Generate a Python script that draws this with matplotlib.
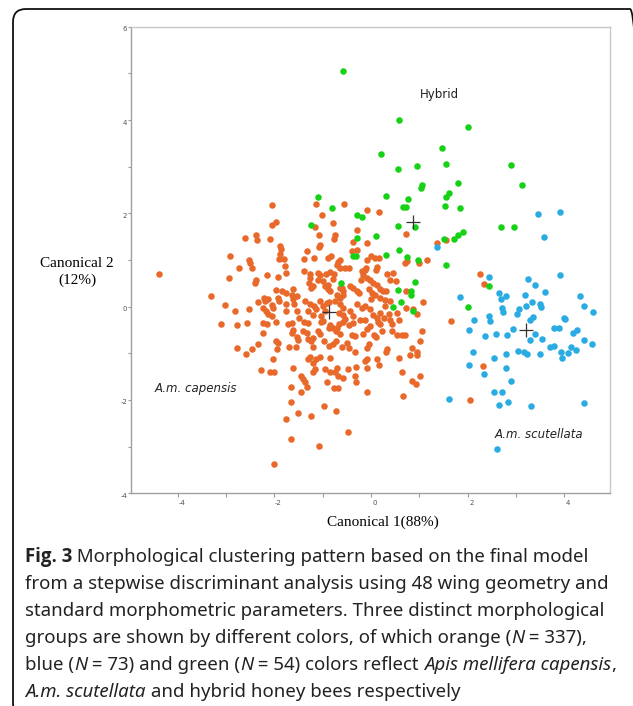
import matplotlib
matplotlib.use("Agg")
import matplotlib.pyplot as plt
from matplotlib import font_manager
from matplotlib.patches import FancyBboxPatch
from matplotlib.transforms import ScaledTranslation
import numpy as np

plt.rcParams["axes.unicode_minus"] = False

# canonical scores (x = canonical 1, y = canonical 2)
capensis = np.array([
    # left part
    (-2.06, 2.17), (-1.96, 1.82), (-2.06, 1.75), (-2.60, 1.47), (-2.38, 1.53), (-2.37, 1.42),
    (-2.09, 1.46), (-1.89, 1.31), (-1.87, 1.24), (-1.89, 1.12), (-1.90, 1.03), (-1.80, 1.03),
    (-1.78, 0.87), (-1.75, 0.73), (-2.92, 1.08), (-2.74, 0.82), (-2.52, 1.01), (-2.51, 0.94),
    (-2.47, 0.83), (-2.94, 0.62), (-2.38, 0.58), (-2.40, 0.51), (-2.16, 0.68), (-1.92, 0.63),
    (-4.39, 0.69), (-3.32, 0.22), (-3.02, 0.04), (-2.82, -0.09), (-2.53, -0.04), (-3.10, -0.38),
    (-2.78, -0.40), (-2.56, -0.34), (-2.34, 0.09), (-2.22, 0.19), (-2.13, 0.16), (-2.20, 0.12),
    (-2.23, -0.02), (-2.18, -0.09), (-2.14, -0.15), (-2.06, 0.04), (-2.02, -0.02), (-1.96, 0.35),
    (-1.85, 0.34), (-1.92, 0.19), (-1.90, 0.13), (-1.75, 0.30), (-1.75, 0.06), (-1.77, -0.09),
    (-2.24, -0.36), (-2.16, -0.38), (-1.71, -0.38), (-1.97, -0.33), (-2.04, -0.21),
    # centre, upper half
    (-1.14, 2.21), (-0.55, 2.21), (-1.02, 1.96), (-0.08, 2.08), (0.17, 2.03), (-0.78, 1.79),
    (-1.17, 1.71), (-0.30, 1.64), (-1.07, 1.53), (-0.74, 1.53), (-0.77, 1.46), (-0.37, 1.38),
    (-0.09, 1.37), (0.72, 1.56), (1.37, 1.37), (1.55, 1.43), (-1.33, 1.19), (-1.39, 1.03),
    (-1.18, 1.05), (-1.06, 1.32), (-1.08, 1.28), (-0.90, 1.05), (-0.82, 1.08), (-0.64, 1.00),
    (-0.68, 0.96), (-0.71, 0.90), (-0.64, 0.83), (-0.54, 0.82), (-0.45, 0.82), (-0.40, 1.19),
    (-0.30, 1.22), (0.01, 1.08), (0.08, 1.05), (0.17, 1.05), (-0.08, 1.00), (-0.10, 0.83),
    (-0.12, 0.78), (0.12, 0.86), (0.10, 0.79), (-1.26, 0.69), (-1.26, 0.62), (-1.28, 0.51),
    (-1.20, 0.44), (-1.25, 0.40), (-1.09, 0.72), (-1.06, 0.67), (-1.09, 0.58), (-0.99, 0.55),
    (-0.85, 0.75), (-0.77, 0.70), (-0.79, 0.60), (-0.89, 0.46), (-0.96, 0.44), (-0.90, 0.37),
    (-0.85, 0.34), (-0.64, 0.41), (-0.59, 0.34), (-0.57, 0.26), (-0.64, 0.19), (-0.44, 0.44),
    (-0.37, 0.41), (-0.30, 0.34), (-0.24, 0.30), (-0.19, 0.76), (-0.16, 0.68), (-0.09, 0.62),
    (-0.21, 0.58), (-0.02, 0.58), (0.05, 0.51), (0.12, 0.46), (-0.05, 0.37), (0.02, 0.30),
    (0.08, 0.26), (0.19, 0.37), (0.24, 0.34), (0.32, 0.34), (0.34, 0.69), (0.46, 0.73),
    (0.39, 0.58), (0.52, 0.55), (0.19, 0.19), (0.29, 0.15), (0.39, 0.12), (0.29, 0.01),
    (-1.54, 0.23), (-1.61, 0.16), (-1.60, 0.05), (-1.37, 0.12), (-1.26, 0.06), (-1.18, 0.01),
    (-1.13, -0.06), (-1.30, -0.10), (-1.20, -0.17), (-1.06, 0.12), (-0.99, 0.01), (-0.92, 0.08),
    (-0.96, -0.10), (-1.04, -0.20), (-0.99, -0.31), (-0.75, 0.12), (-0.64, 0.05), (-0.57, -0.02),
    (-0.67, -0.13), (-0.57, -0.17), (-0.44, -0.10), (-0.37, -0.20), (-0.30, 0.05), (-0.19, -0.02),
    (-0.12, 0.01), (-0.02, -0.06), (0.05, -0.17), (0.19, -0.13), (0.13, -0.24), (0.26, -0.24),
    (0.38, -0.16), (0.53, -0.13), (0.73, -0.02), (0.74, 0.98), (0.70, 0.93), (1.00, 0.94),
    (1.15, 1.01), (1.08, 0.11), (0.73, 0.33), (0.88, -0.04), (0.96, -0.15), (-1.64, 0.26),
    (-1.61, 0.37), (-1.53, -0.09), (-0.86, 0.10), (-0.71, 0.25), (-0.01, 0.16), (-1.39, 0.76),
    (-0.94, 0.71), (-0.61, 0.41), (2.26, 0.71), (2.34, 0.48),
    # centre, just below zero
    (-1.39, -0.32), (-1.30, -0.34), (-1.04, -0.32), (-0.85, -0.39), (-0.66, -0.38), (-0.59, -0.32),
    (-0.54, -0.27), (-0.45, -0.39), (-0.37, -0.34), (-0.23, -0.28), (-0.03, -0.41), (-0.12, -0.29),
    (0.15, -0.32), (0.19, -0.38), (0.39, -0.29), (0.44, -0.38), (0.59, -0.29), (1.66, -0.31),
    (-1.64, -0.36), (-1.49, -0.24),
    # lower half
    (-2.77, -0.89), (-2.58, -1.02), (-2.46, -0.91), (-2.35, -0.79), (-2.24, -0.57), (-1.97, -0.73),
    (-1.93, -0.77), (-1.95, -0.90), (-2.02, -1.13), (-2.27, -1.35), (-2.09, -1.40), (-2.00, -1.40),
    (-1.69, -0.86), (-1.63, -0.56), (-1.61, -0.50), (-1.54, -0.66), (-1.51, -0.72), (-1.55, -0.86),
    (-1.40, -0.52), (-1.32, -0.56), (-1.30, -0.70), (-1.25, -0.73), (-1.20, -0.68), (-1.21, -0.86),
    (-1.09, -0.53), (-1.06, -0.58), (-0.97, -0.73), (-0.88, -0.46), (-0.78, -0.46), (-0.73, -0.52),
    (-0.70, -0.45), (-0.64, -0.59), (-0.73, -0.73), (-0.78, -0.80), (-0.88, -0.84), (-0.61, -0.86),
    (-0.40, -0.61), (-0.33, -0.63), (-0.49, -0.78), (-0.45, -0.88), (-0.33, -0.98), (-0.16, -0.58),
    (-0.09, -0.48), (0.06, -0.61), (0.10, -0.66), (-0.05, -0.80), (-0.09, -0.88), (0.22, -0.52),
    (0.43, -0.52), (0.53, -0.61), (0.64, -0.61), (0.70, -0.61), (1.05, -0.53), (1.02, -0.73),
    (0.84, -0.88), (0.96, -1.03), (0.57, -1.09), (0.34, -0.91), (0.31, -0.98), (0.12, -1.13),
    (0.17, -1.25), (-0.09, -1.13), (-0.12, -1.16), (-0.08, -1.32), (-0.32, -1.29), (-0.47, -1.34),
    (-0.70, -1.32), (-0.75, -1.41), (-0.85, -1.41), (-0.95, -1.34), (-0.85, -1.10), (-1.06, -1.08),
    (-1.13, -1.13), (-1.20, -1.20), (-1.30, -1.13), (-1.27, -1.07), (-1.16, -1.34), (-1.20, -1.41),
    (-1.44, -1.48), (-1.40, -1.55), (-1.37, -1.62), (-1.33, -1.73), (-1.44, -1.84), (-1.61, -1.32),
    (-1.65, -1.73), (-1.65, -2.04), (-1.51, -2.28), (-1.25, -2.35), (-1.75, -2.41), (-1.65, -2.83),
    (-1.08, -2.98), (-0.48, -2.68), (-2.01, -3.37), (-0.97, -2.14), (-0.73, -2.23), (-0.92, -1.62),
    (-0.76, -1.74), (-0.68, -1.74), (-0.57, -1.52), (-0.68, -1.48), (-0.33, -1.48), (-0.31, -1.62),
    (-0.08, -1.84), (0.66, -1.92), (0.64, -1.41), (0.84, -1.59), (0.94, -1.65), (1.02, -1.48),
    (0.95, -0.98), (2.31, -1.27), (2.05, -2.00), (0.80, -1.03),
])

scutellata = np.array([
    (3.46, 1.98), (3.92, 2.03), (3.59, 1.50), (1.36, 1.27), (2.44, 0.63), (3.25, 0.60),
    (3.92, 0.68), (3.40, 0.46), (3.60, 0.32), (2.66, 0.29), (2.80, 0.22), (2.69, 0.17),
    (3.19, 0.26), (1.84, 0.20), (4.33, 0.22), (3.34, 0.11), (3.50, 0.06), (3.52, -0.01),
    (3.21, 0.02), (4.41, 0.01), (4.59, -0.11), (2.72, -0.02), (3.07, -0.06), (2.74, -0.11),
    (3.02, -0.16), (2.45, -0.20), (3.35, -0.22), (4.00, -0.24), (2.13, -0.28), (2.46, -0.31),
    (2.03, -0.50), (2.36, -0.63), (2.59, -0.59), (2.81, -0.60), (2.95, -0.47), (3.30, -0.29),
    (3.30, -0.72), (3.40, -0.59), (3.55, -0.70), (3.79, -0.46), (3.90, -0.46), (4.02, -0.27),
    (4.18, -0.56), (4.26, -0.50), (4.42, -0.72), (4.58, -0.79), (3.71, -0.86), (3.80, -0.85),
    (3.94, -0.98), (3.96, -1.09), (4.09, -1.00), (4.14, -0.86), (4.24, -0.93), (3.05, -0.96),
    (3.17, -0.97), (3.24, -1.02), (3.49, -1.02), (2.80, -1.02), (2.55, -1.11), (2.12, -0.98),
    (2.03, -1.25), (2.80, -1.32), (2.33, -1.45), (2.89, -1.60), (2.54, -1.82), (2.72, -1.84),
    (2.65, -2.11), (2.83, -2.04), (3.32, -2.14), (1.61, -1.99), (4.41, -2.07), (2.60, -3.05),
])

hybrid = np.array([
    (-0.57, 5.06), (0.59, 4.00), (2.01, 3.84), (0.21, 3.28), (1.48, 3.40), (1.55, 3.06),
    (0.95, 3.01), (0.55, 2.96), (2.89, 3.03), (1.80, 2.66), (1.06, 2.60), (1.03, 2.55),
    (3.13, 2.60), (1.62, 2.44), (1.55, 2.35), (0.31, 2.37), (0.77, 2.31), (-1.09, 2.34),
    (-0.80, 2.12), (1.53, 2.15), (1.84, 2.11), (0.66, 2.14), (0.73, 2.14), (-0.28, 1.97),
    (-0.19, 1.92), (2.69, 1.71), (2.96, 1.71), (-1.25, 1.75), (0.56, 1.72), (0.92, 1.70),
    (1.91, 1.61), (1.81, 1.53), (1.72, 1.45), (1.51, 1.45), (-0.28, 1.48), (0.10, 1.51),
    (0.57, 1.21), (0.32, 1.11), (-0.38, 1.09), (-0.31, 1.08), (0.74, 1.06), (0.97, 1.00),
    (1.55, 0.90), (2.45, 0.44), (0.91, 0.53), (-0.63, 0.51), (0.55, 0.36), (0.82, 0.33),
    (0.82, 0.26), (0.62, 0.11), (2.01, 0.00), (0.46, 0.00), (0.86, -0.09),
])

# group centroids
centroids = np.array([(-0.88, -0.11), (3.20, -0.51), (0.88, 1.82)])

group_names = ["A.m. capensis", "A.m. scutellata", "Hybrid"]
name_pos = [(-4.48, -1.75), (2.55, -2.75), (1.02, 4.54)]

# caption lines as (text, weight, style) pieces
caption = [
    [("Fig. 3", "bold", "normal"), (" Morphological clustering pattern based on the final model", "normal", "normal")],
    [("from a stepwise discriminant analysis using 48 wing geometry and", "normal", "normal")],
    [("standard morphometric parameters. Three distinct morphological", "normal", "normal")],
    [("groups are shown by different colors, of which orange (", "normal", "normal"),
     ("N", "normal", "italic"), (" = 337),", "normal", "normal")],
    [("blue (", "normal", "normal"), ("N", "normal", "italic"), (" = 73) and green (", "normal", "normal"),
     ("N", "normal", "italic"), (" = 54) colors reflect ", "normal", "normal"),
     ("Apis mellifera capensis", "normal", "italic"), (",", "normal", "normal")],
    [("A.m. scutellata", "normal", "italic"), (" and hybrid honey bees respectively", "normal", "normal")],
]

orange = "#E8692A"
blue = "#2AABE2"
green = "#16D116"


def bold_family():
    # first sans family that really has a bold face installed
    for fam in ["Noto Sans", "Open Sans", "Lato", "Roboto", "Liberation Sans"]:
        path = font_manager.findfont(font_manager.FontProperties(family=fam, weight="bold"),
                                     fallback_to_default=False)
        if "bold" in path.lower():
            return fam
    return "DejaVu Sans"


fig = plt.figure(figsize=(6.33, 7.06), dpi=100)
ax = fig.add_axes([0.2062, 0.3013, 0.7575, 0.6609])

ax.scatter(capensis[:, 0], capensis[:, 1], s=22, color=orange, linewidths=0, zorder=2)
ax.scatter(hybrid[:, 0], hybrid[:, 1], s=22, color=green, linewidths=0, zorder=3)
ax.scatter(scutellata[:, 0], scutellata[:, 1], s=22, color=blue, linewidths=0, zorder=4)
ax.plot(centroids[:, 0], centroids[:, 1], "+", color="#333333", ms=10, mew=0.9, ls="none", zorder=5)

for name, (tx, ty) in zip(group_names, name_pos):
    style = "normal" if name == "Hybrid" else "italic"
    ax.text(tx, ty, name, fontsize=8.5, style=style, color="#222222",
            family="DejaVu Sans", ha="left", va="center")

ax.set_xlim(-4.98, 4.95)
ax.set_ylim(-4, 6)
ax.set_xticks([-4, -2, 0, 2, 4])
ax.set_xticks(np.arange(-4, 5), minor=True)
ax.set_yticks([-4, -2, 0, 2, 4, 6])
ax.set_yticks(np.arange(-4, 7), minor=True)
ax.tick_params(which="both", direction="out", color="#999999", labelsize=5,
               labelcolor="#555555", width=0.8)
ax.tick_params(axis="x", which="both", length=3, pad=1.5)
ax.tick_params(axis="y", which="both", length=2, pad=0.5)

for side in ["left", "bottom"]:
    ax.spines[side].set_color("#a0a0a0")
for side in ["top", "right"]:
    ax.spines[side].set_color("#c8c8c8")
for sp in ax.spines.values():
    sp.set_linewidth(1.0)

for lab in ax.get_xticklabels():
    lab.set_transform(lab.get_transform() + ScaledTranslation(0.04, 0, fig.dpi_scale_trans))
for lab in ax.get_yticklabels():
    lab.set_transform(lab.get_transform() + ScaledTranslation(0, -0.02, fig.dpi_scale_trans))

fig.text(77 / 633, 1 - 272 / 706, "Canonical 2\n(12%)", family="Liberation Serif",
         fontsize=11, ha="center", va="center", linespacing=1.3)
fig.text(383 / 633, 1 - 522 / 706, "Canonical 1(88%)", family="Liberation Serif",
         fontsize=11, ha="center", va="center")

# caption: pieces of one line are set one after another
renderer = fig.canvas.get_renderer()
bold_fam = bold_family()
for i, pieces in enumerate(caption):
    x = 25 / 633
    y = 1 - (562 + 27 * i) / 706
    for txt, weight, style in pieces:
        fam = bold_fam if weight == "bold" else "Noto Sans"
        t = fig.text(x, y, txt, family=fam, fontsize=13.4, weight=weight,
                     style=style, color="#222222", ha="left", va="baseline")
        x += t.get_window_extent(renderer).width / fig.bbox.width

# rounded frame around the whole figure
frame = FancyBboxPatch((0.13, -0.10), 6.30, 7.07, boxstyle="round,pad=0,rounding_size=0.13",
                       transform=fig.dpi_scale_trans, fill=False, edgecolor="#111111",
                       linewidth=1.3)
fig.add_artist(frame)

fig.savefig("out.png", dpi=100)
